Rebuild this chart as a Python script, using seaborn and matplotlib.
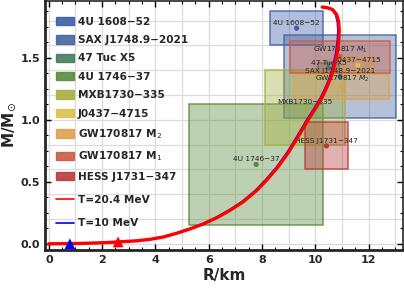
import numpy as np
import matplotlib
matplotlib.use("Agg")
import matplotlib.pyplot as plt
from matplotlib.patches import Rectangle, Patch
from matplotlib.lines import Line2D
from matplotlib.ticker import MultipleLocator
import seaborn as sns

# observed neutron stars: radius (km), mass (Msun) and their errors
names = ["4U 1608\u221252", "SAX J1748.9\u22122021", "47 Tuc X5", "4U 1746\u221237",
         "MXB1730\u2212335", "J0437\u22124715", "GW170817 $M_2$", "GW170817 $M_1$",
         "HESS J1731\u2212347"]
legend_names = ["4U 1608\u221252", "SAX J1748.9\u22122021", "47 Tuc X5", "4U 1746\u221237",
                "MXB1730\u2212335", "J0437\u22124715", "GW170817 M$_2$", "GW170817 M$_1$",
                "HESS J1731\u2212347"]
radius = [9.3, 10.93, 10.5, 7.78, 9.6, 11.6, 11.0, 10.93, 10.42]
mass = [1.74, 1.35, 1.42, 0.64, 1.1, 1.44, 1.27, 1.51, 0.79]
radius_err = [1.0, 2.1, 0.4, 2.52, 1.5, 0.6, 1.78, 1.87, 0.8]
mass_err = [0.14, 0.335, 0.04, 0.49, 0.3, 0.07, 0.1, 0.13, 0.19]
colors = ["#3f5da8", "#45659a", "#467a5c", "#5a8a3c", "#a3b140",
          "#d9c24a", "#dfa14f", "#cb5a44", "#b83a3a"]

# mass-radius curves
r_hot = [0.0, 1.0, 2.0, 2.6, 3.3, 3.8, 4.3, 4.8, 5.3, 5.8, 6.3, 6.8, 7.3, 7.8, 8.2, 8.6,
         9.0, 9.4, 9.7, 10.0, 10.25, 10.45, 10.6, 10.72, 10.82, 10.88, 10.9, 10.88, 10.8,
         10.65, 10.45, 10.26]
m_hot = [0.0, 0.002, 0.008, 0.015, 0.024, 0.036, 0.055, 0.085, 0.12, 0.16, 0.21, 0.27,
         0.34, 0.43, 0.52, 0.62, 0.74, 0.88, 0.99, 1.09, 1.18, 1.27, 1.35, 1.44, 1.54, 1.64,
         1.72, 1.79, 1.85, 1.89, 1.905, 1.91]
r_cold = [0.0, 1.0, 2.0, 2.6, 3.3, 3.8, 4.28, 4.77, 5.26, 5.76, 6.25, 6.75, 7.25, 7.75,
          8.15, 8.55, 8.95, 9.35, 9.65, 9.95, 10.2, 10.4, 10.55, 10.67, 10.77, 10.83, 10.85,
          10.83, 10.76, 10.62, 10.43, 10.25]
m_cold = m_hot
start_r = [0.79, 2.6]
start_m = [0.0, 0.015]

sns.set_style("ticks")
plt.rcParams["font.family"] = ["DejaVu Sans"]

fig = plt.figure(figsize=(4.04, 2.89), dpi=100)
ax = fig.add_axes([0.111, 0.135, 0.887, 0.862])

for gx in np.arange(0, 14, 1):
    ax.axvline(gx, color="#dcdcdc", lw=0.9, zorder=0)
for gy in np.arange(0, 2.0, 0.2):
    ax.axhline(gy, color="#dcdcdc", lw=0.9, zorder=0)

for i in range(len(names)):
    ax.add_patch(Rectangle((radius[i] - radius_err[i], mass[i] - mass_err[i]),
                           2 * radius_err[i], 2 * mass_err[i],
                           facecolor=colors[i], alpha=0.4, lw=0, zorder=1))
    ax.add_patch(Rectangle((radius[i] - radius_err[i], mass[i] - mass_err[i]),
                           2 * radius_err[i], 2 * mass_err[i],
                           facecolor="none", edgecolor=colors[i], alpha=0.85, lw=1.1, zorder=1))

sns.scatterplot(x=radius, y=mass, hue=names, palette=colors, s=14, linewidth=0,
                legend=False, ax=ax, zorder=2)
for i in range(len(names)):
    ax.annotate(names[i], (radius[i], mass[i]), xytext=(0, 1.5), textcoords="offset points",
                ha="center", va="bottom", fontsize=5.3, color="#222222", zorder=3)

sns.lineplot(x=r_cold, y=m_cold, sort=False, estimator=None, color="blue", lw=1.3, ax=ax, zorder=4)
sns.lineplot(x=r_hot, y=m_hot, sort=False, estimator=None, color="red", lw=2.4, ax=ax, zorder=5)
sns.scatterplot(x=start_r, y=start_m, hue=["b", "r"], palette=["blue", "red"], marker="^",
                s=60, linewidth=0, legend=False, ax=ax, zorder=6)

ax.set_xlim(-0.15, 13.3)
ax.set_ylim(-0.05, 1.96)
ax.xaxis.set_major_locator(MultipleLocator(2))
ax.xaxis.set_minor_locator(MultipleLocator(0.5))
ax.yaxis.set_major_locator(MultipleLocator(0.5))
ax.yaxis.set_minor_locator(MultipleLocator(0.125))
ax.tick_params(which="both", direction="in", top=True, right=True, color="black")
ax.tick_params(which="major", length=4, width=1, labelsize=8)
ax.tick_params(which="minor", length=2.5, width=0.8)
for lab in ax.get_xticklabels() + ax.get_yticklabels():
    lab.set_fontweight("bold")
for side in ["left", "bottom"]:
    ax.spines[side].set_linewidth(2)
for side in ["top", "right"]:
    ax.spines[side].set_linewidth(1.2)
ax.set_xlabel("R/km", fontsize=11, fontweight="bold", labelpad=2)
ax.set_ylabel(r"M/M$_{\odot}$", fontsize=11, fontweight="bold", labelpad=2)

handles = [Patch(facecolor=c, edgecolor=c, alpha=0.9) for c in colors]
leg1 = ax.legend(handles, legend_names, loc="upper left", bbox_to_anchor=(0.031, 0.937),
                 frameon=False, prop=dict(weight="bold", size=7.6), handlelength=1.7,
                 handleheight=0.85, handletextpad=0.35, labelspacing=0.8, borderpad=0,
                 borderaxespad=0)
ax.add_artist(leg1)
lines = [Line2D([], [], color="red", lw=1.2), Line2D([], [], color="blue", lw=1.2)]
ax.legend(lines, ["T=20.4 MeV", "T=10 MeV"], loc="upper left", bbox_to_anchor=(0.031, 0.222),
          frameon=False, prop=dict(weight="bold", size=7.6), handlelength=1.7,
          handletextpad=0.35, labelspacing=1.3, borderpad=0, borderaxespad=0)

fig.savefig("out.png", dpi=100)
